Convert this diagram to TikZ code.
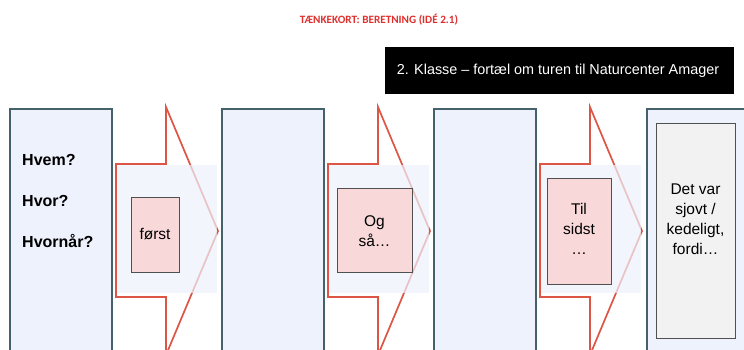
\documentclass[tikz,border=0pt]{standalone}
\usepackage{fontspec}
\setmainfont{Liberation Sans}
\newfontfamily\titlefont{Carlito}
\definecolor{boxblue}{HTML}{EEF2FD}
\definecolor{boxedge}{HTML}{45616B}
\definecolor{arrowred}{HTML}{DD5544}
\definecolor{pinkfill}{HTML}{F8D8D8}
\definecolor{greyfill}{HTML}{F2F2F2}
\definecolor{darkedge}{HTML}{505050}
\definecolor{titlered}{HTML}{E0302E}
\tikzset{
  tallbox/.style={fill=boxblue,draw=boxedge,line width=1.4pt},
  arrowshape/.style={draw=arrowred,line width=1.7pt,line join=miter},
  shaftbg/.style={fill=boxblue,fill opacity=0.7},
  notebox/.style={fill=pinkfill,draw=darkedge,line width=0.8pt},
  endbox/.style={fill=greyfill,draw=darkedge,line width=0.8pt},
  txt/.style={font=\fontsize{15.5}{20}\selectfont,align=center,inner sep=0pt},
  qtxt/.style={font=\fontsize{16}{19}\selectfont\bfseries,anchor=west,inner sep=0pt},
}
\begin{document}
\begin{tikzpicture}[x=1pt,y=-1pt]
\useasboundingbox (0,0) rectangle (744,349);
\clip (0,0) rectangle (744,349);
\fill[white] (0,0) rectangle (744,349);
% title
\node[font=\titlefont\fontsize{11.2}{13}\selectfont\bfseries,text=titlered] (title) at (379,20) {TÆNKEKORT: BERETNING (IDÉ 2.1)};
% black header
\fill[black] (385,47) rectangle (734,94);
\node[text=white,font=\fontsize{14.4}{17}\selectfont,inner sep=0pt] (header) at (558,71) {2. Klasse – fortæl om turen til Naturcenter Amager};
% tall boxes
\draw[tallbox] (10,109) rectangle (112,360);
\draw[tallbox] (222,109) rectangle (324,360);
\draw[tallbox] (434,109) rectangle (536,360);
\draw[tallbox] (647,109) rectangle (760,360);
% arrows
\foreach \sx/\hb/\tip in {116/166/218, 328/378/430, 540/590/642}{
  \draw[arrowshape] (\sx,164) -- (\hb,164) -- (\hb,107) -- (\tip,231) -- (\hb,355) -- (\hb,297) -- (\sx,297) -- cycle;
  \fill[shaftbg] (\sx+1,165) rectangle (\tip-1,293);
}
% note boxes
\draw[notebox] (131,197) rectangle (179,272);
\node[txt] (n1) at (155,234) {først};
\draw[notebox] (337,188) rectangle (412,272);
\node[txt] (n2) at (374.5,231) {Og\\så…};
\draw[notebox] (547,178) rectangle (611,284);
\node[txt] (n3) at (579,229) {Til\\sidst\\…};
\draw[endbox] (656,123) rectangle (735,338);
\node[txt] (n4) at (695.5,219) {Det var\\sjovt /\\kedeligt,\\fordi…};
% questions
\node[qtxt] (q1) at (22,160) {Hvem?};
\node[qtxt] (q2) at (22,201) {Hvor?};
\node[qtxt] (q3) at (22,241) {Hvornår?};
\end{tikzpicture}
\end{document}
